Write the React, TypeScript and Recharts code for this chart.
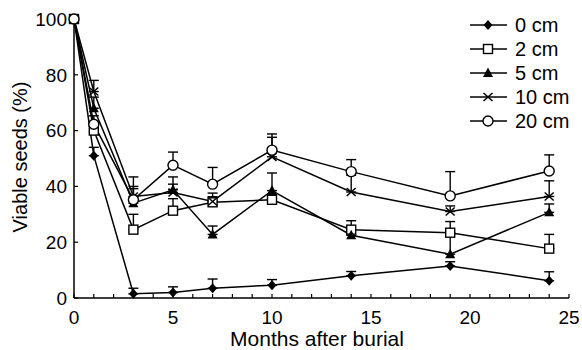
import React from 'react';
import { LineChart, Line, XAxis, YAxis, ErrorBar, Legend, Label } from 'recharts';

// months after burial
const months = [0, 1, 3, 5, 7, 10, 14, 19, 24];

// viable seeds (%) per burial depth
const depth0 = [100, 51, 1.5, 2, 3.5, 4.6, 8, 11.5, 6.2];
const depth2 = [100, 60, 24.5, 31.3, 34.3, 35.2, 24.5, 23.4, 17.7];
const depth5 = [100, 68, 34, 38.8, 22.8, 38.5, 22.5, 15.7, 30.7];
const depth10 = [100, 74, 36.4, 37.8, 34.6, 50.6, 38, 31, 36.4];
const depth20 = [100, 62.3, 35.2, 47.6, 40.8, 53, 45.3, 36.6, 45.5];

// upper error (SE)
const err0 = [0, 3, 2, 2, 3.3, 2, 1.5, 1.5, 3.2];
const err2 = [0, 3, 5.5, 4.3, 2, 2, 3.2, 4, 5.1];
const err5 = [0, 4, 6, 4.6, 3, 6.3, 2, 7, 3];
const err10 = [0, 4, 7, 3, 3, 7, 6, 2, 5.6];
const err20 = [0, 3, 4, 4.7, 6, 5.8, 4.3, 8.7, 5.8];

const xTicks = [0, 1, 2, 3, 4, 5, 6, 7, 8, 9, 10, 11, 12, 13, 14, 15, 16, 17, 18, 19, 20, 21, 22, 23, 24, 25];
const xLabels = [0, 5, 10, 15, 20, 25];
const yTicks = [0, 20, 40, 60, 80, 100];

type Kind = 'diamond' | 'square' | 'triangle' | 'cross' | 'circle';

const series: { key: string; name: string; kind: Kind; values: number[]; err: number[] }[] = [
  { key: 'd0', name: '0 cm', kind: 'diamond', values: depth0, err: err0 },
  { key: 'd2', name: '2 cm', kind: 'square', values: depth2, err: err2 },
  { key: 'd5', name: '5 cm', kind: 'triangle', values: depth5, err: err5 },
  { key: 'd10', name: '10 cm', kind: 'cross', values: depth10, err: err10 },
  { key: 'd20', name: '20 cm', kind: 'circle', values: depth20, err: err20 },
];

const data = months.map((m, i) => {
  const row: Record<string, any> = { month: m };
  series.forEach((s) => {
    row[s.key] = s.values[i];
    row[s.key + 'Err'] = [0, s.err[i]];
  });
  return row;
});

const FONT = '"Liberation Sans", Arial, Helvetica, sans-serif';

const Marker = ({ kind, cx, cy }: { kind: Kind; cx: number; cy: number }) => {
  if (cx == null || cy == null) return null;
  switch (kind) {
    case 'diamond':
      return <polygon points={`${cx},${cy - 5} ${cx + 4.5},${cy} ${cx},${cy + 5} ${cx - 4.5},${cy}`} fill="#000" />;
    case 'square':
      return <rect x={cx - 4.5} y={cy - 4.5} width={9} height={9} fill="#fff" stroke="#000" strokeWidth={1.4} />;
    case 'triangle':
      return <polygon points={`${cx},${cy - 5.5} ${cx + 5},${cy + 4} ${cx - 5},${cy + 4}`} fill="#000" />;
    case 'cross':
      return (
        <g stroke="#000" strokeWidth={1.5}>
          <line x1={cx - 4.5} y1={cy - 4} x2={cx + 4.5} y2={cy + 4} />
          <line x1={cx - 4.5} y1={cy + 4} x2={cx + 4.5} y2={cy - 4} />
        </g>
      );
    default:
      return <circle cx={cx} cy={cy} r={5} fill="#fff" stroke="#000" strokeWidth={1.4} />;
  }
};

const XTick = (props: any) => {
  const { x, y, payload } = props;
  if (!xLabels.includes(payload.value)) return <g />;
  return (
    <text x={x} y={y + 30} textAnchor="middle" fontSize={19} fontFamily={FONT} fill="#000">
      {payload.value}
    </text>
  );
};

const renderLegend = () => (
  <svg width={112} height={132} style={{ display: 'block' }}>
    {series.map((s, i) => {
      const y = 12 + i * 24;
      return (
        <g key={s.key}>
          <line x1={0} x2={37} y1={y} y2={y} stroke="#000" strokeWidth={1.5} />
          <Marker kind={s.kind} cx={18} cy={y} />
          <text x={45} y={y} dy="0.36em" fontSize={20} fontFamily={FONT} fill="#000">
            {s.name}
          </text>
        </g>
      );
    })}
  </svg>
);

export default function App() {
  return (
    <div style={{ position: 'absolute', left: 0, top: 0, width: 582, height: 350, background: '#fff' }}>
      <LineChart width={582} height={350} data={data} margin={{ top: 19, right: 13, left: 0, bottom: 22 }}>
        <XAxis
          dataKey="month"
          type="number"
          domain={[0, 25]}
          ticks={xTicks}
          interval={0}
          height={30}
          tickSize={-4}
          tickMargin={0}
          tick={<XTick />}
          axisLine={{ stroke: '#000', strokeWidth: 1.5 }}
          tickLine={{ stroke: '#000', strokeWidth: 1.2 }}
        >
          <Label
            content={() => (
              <text x={317} y={346} textAnchor="middle" fontSize={21} fontFamily={FONT} fill="#000">
                Months after burial
              </text>
            )}
          />
        </XAxis>
        <YAxis
          type="number"
          domain={[0, 100]}
          ticks={yTicks}
          interval={0}
          width={74}
          tickSize={-4}
          tickMargin={11}
          tick={{ fontSize: 19, fontFamily: FONT, fill: '#000' }}
          axisLine={{ stroke: '#000', strokeWidth: 1.5 }}
          tickLine={{ stroke: '#000', strokeWidth: 1.2 }}
        >
          <Label
            content={() => (
              <text
                x={27}
                y={157}
                transform="rotate(-90 27 157)"
                textAnchor="middle"
                fontSize={20}
                fontFamily={FONT}
                fill="#000"
              >
                Viable seeds (%)
              </text>
            )}
          />
        </YAxis>
        <Legend
          layout="horizontal"
          verticalAlign="middle"
          align="center"
          content={renderLegend}
          wrapperStyle={{ position: 'absolute', left: 470, top: 13, width: 112, height: 132 }}
        />
        {series.map((s) => (
          <Line
            key={s.key}
            dataKey={s.key}
            name={s.name}
            type="linear"
            stroke="#000"
            strokeWidth={1.5}
            isAnimationActive={false}
            activeDot={false}
            dot={(p: any) => <Marker key={`${s.key}-${p.index}`} kind={s.kind} cx={p.cx} cy={p.cy} />}
          >
            <ErrorBar dataKey={s.key + 'Err'} direction="y" width={5} stroke="#000" strokeWidth={1.4} />
          </Line>
        ))}
      </LineChart>
    </div>
  );
}
